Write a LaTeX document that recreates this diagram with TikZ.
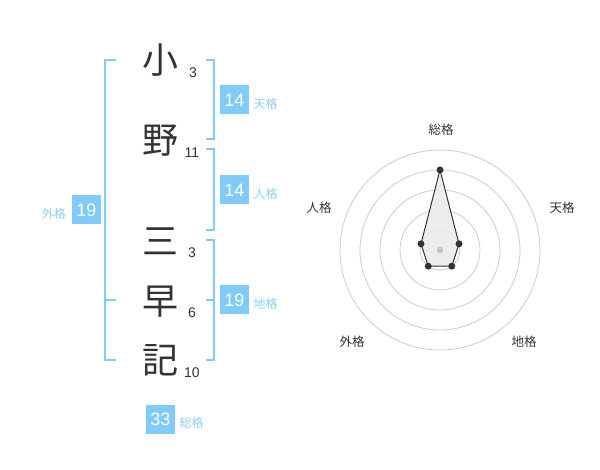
\documentclass[tikz,border=0pt]{standalone}
\usepackage{fontspec}
\setmainfont{Liberation Sans}
\newfontfamily\jp{Noto Sans CJK JP}
\definecolor{boxblue}{HTML}{80CBFA}
\definecolor{lblblue}{HTML}{8DD0F7}
\definecolor{ink}{HTML}{333333}
\definecolor{ring}{HTML}{CCCCCC}
\tikzset{
  kanji/.style={font=\jp\fontsize{36}{36}\selectfont, text=ink, inner sep=0pt},
  strokes/.style={font=\fontsize{14}{14}\selectfont, text=ink, inner sep=0pt},
  scorebox/.style={fill=boxblue, text=white, minimum size=29pt, inner sep=0pt, font=\fontsize{18}{18}\selectfont},
  scorelbl/.style={font=\jp\fontsize{12}{12}\selectfont, text=lblblue, inner sep=0pt},
  bracket/.style={draw=boxblue, line width=2pt},
  axislbl/.style={font=\jp\fontsize{12.5}{12.5}\selectfont, text=ink, inner sep=0pt},
  ringline/.style={draw=ring, line width=0.8pt},
  dot/.style={circle, fill=ink, minimum size=7pt, inner sep=0pt},
}
\begin{document}
\begin{tikzpicture}[x=1pt,y=-1pt]
\useasboundingbox (0,0) rectangle (600,470);
% characters
\node[kanji] (k1) at (160,60) {小};
\node[kanji] (k2) at (160,141) {野};
\node[kanji] (k3) at (160,241) {三};
\node[kanji] (k4) at (160,302) {早};
\node[kanji] (k5) at (160,360) {記};
\node[strokes] (s1) at (193,73) {3};
\node[strokes] (s2) at (192,153) {11};
\node[strokes] (s3) at (192,253) {3};
\node[strokes] (s4) at (192,313) {6};
\node[strokes] (s5) at (192,373) {10};
% brackets
\coordinate (La) at (116,60); \coordinate (Lb) at (105,60);
\coordinate (Lc) at (105,360); \coordinate (Ld) at (116,360);
\coordinate (Lm1) at (105,300); \coordinate (Lm2) at (116,300);
\draw[bracket] (La) -- (Lb) -- (Lc) -- (Ld);
\draw[bracket] (Lm1) -- (Lm2);
\coordinate (Ta) at (206,60); \coordinate (Tb) at (214,60);
\coordinate (Tc) at (214,139); \coordinate (Td) at (206,139);
\draw[bracket] (Ta) -- (Tb) -- (Tc) -- (Td);
\coordinate (Ja) at (206,149); \coordinate (Jb) at (214,149);
\coordinate (Jc) at (214,230); \coordinate (Jd) at (206,230);
\draw[bracket] (Ja) -- (Jb) -- (Jc) -- (Jd);
\coordinate (Ca) at (206,240); \coordinate (Cb) at (214,240);
\coordinate (Cc) at (214,360); \coordinate (Cd) at (206,360);
\coordinate (Cm1) at (214,300); \coordinate (Cm2) at (206,300);
\draw[bracket] (Ca) -- (Cb) -- (Cc) -- (Cd);
\draw[bracket] (Cm1) -- (Cm2);
% score boxes
\node[scorebox] (ten) at (234.5,100) {14};
\node[scorelbl, anchor=west] (tenl) at (253.5,103.5) {天格};
\node[scorebox] (jin) at (234.5,190) {14};
\node[scorelbl, anchor=west] (jinl) at (253.5,193.5) {人格};
\node[scorebox] (chi) at (234.5,300) {19};
\node[scorelbl, anchor=west] (chil) at (253.5,303.5) {地格};
\node[scorebox] (gai) at (86.5,210) {19};
\node[scorelbl, anchor=east] (gail) at (66,213.5) {外格};
\node[scorebox] (sou) at (160.5,419) {33};
\node[scorelbl, anchor=west] (soul) at (179.5,422.5) {総格};
% radar
\coordinate (O) at (440,250);
\foreach \r in {20,40,60,80,100} \draw[ringline] (O) circle (\r);
\coordinate (pS) at (440,170);
\coordinate (pT) at (459.02,243.82);
\coordinate (pC) at (451.76,266.18);
\coordinate (pG) at (428.24,266.18);
\coordinate (pJ) at (420.98,243.82);
\filldraw[fill=black!8, fill opacity=0.9, draw=ink, line width=1pt] (pS) -- (pT) -- (pC) -- (pG) -- (pJ) -- cycle;
\node[circle, fill=black!22, minimum size=6.5pt, inner sep=0pt] (oc) at (O) {};
\node[dot] (dS) at (pS) {};
\node[dot] (dT) at (pT) {};
\node[dot] (dC) at (pC) {};
\node[dot] (dG) at (pG) {};
\node[dot] (dJ) at (pJ) {};
\node[axislbl] (aS) at (441,130) {総格};
\node[axislbl] (aT) at (562,208) {天格};
\node[axislbl] (aC) at (524,342) {地格};
\node[axislbl] (aG) at (352,342) {外格};
\node[axislbl] (aJ) at (319,208) {人格};
\end{tikzpicture}
\end{document}
